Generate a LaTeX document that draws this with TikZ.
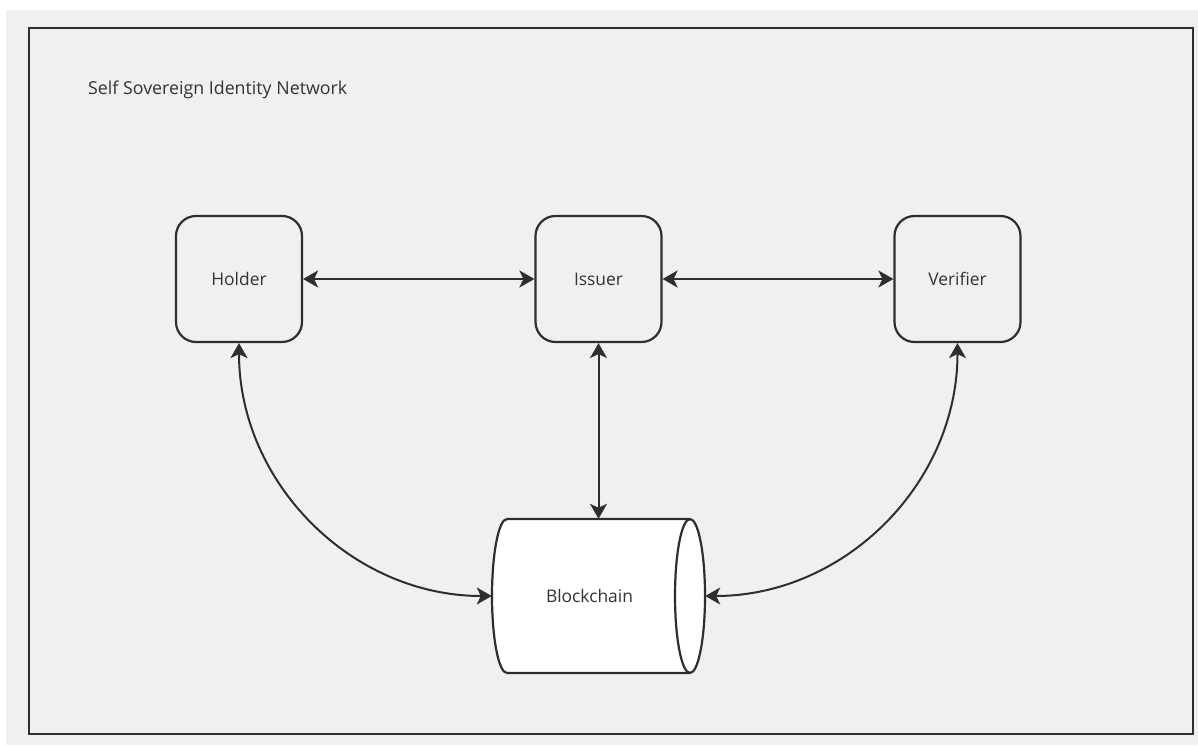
\documentclass[tikz,border=0pt]{standalone}
\usepackage{fontspec}
\setmainfont{Open Sans}
\usetikzlibrary{arrows.meta,calc}
\definecolor{bggray}{HTML}{F0F0F0}
\definecolor{ink}{HTML}{2E2E2E}
\definecolor{txt}{HTML}{333333}
\tikzset{
  party/.style={draw=ink, line width=2.2pt, rounded corners=20pt, minimum width=126pt, minimum height=126pt, inner sep=0pt, text=txt, font=\fontsize{17.4}{20}\selectfont},
  lbl/.style={text=txt, font=\fontsize{17.4}{20}\selectfont, inner sep=0pt},
  cylbox/.style={minimum width=213pt, minimum height=154pt, inner sep=0pt},
  conn/.style={draw=ink, line width=2pt, {Stealth[length=15pt,width=17pt,inset=4pt]}-{Stealth[length=15pt,width=17pt,inset=4pt]}},
}
\begin{document}
\begin{tikzpicture}[x=1pt,y=1pt]
\useasboundingbox (0,0) rectangle (1198,745);
\fill[white] (0,0) rectangle (1198,745);
\fill[bggray] (6,0) rectangle (1198,735);
\draw[ink, line width=2.8pt] (29,11) rectangle (1193,717);
\node[lbl, anchor=base west, font=\fontsize{17.8}{20}\selectfont] (title) at (88,650) {Self Sovereign Identity Network};
\node[party] (holder) at (239,466) {Holder};
\node[party] (issuer) at (598.5,466) {Issuer};
\node[party] (verifier) at (957.5,466) {Verifier};
\node[cylbox] (chain) at (598.5,149) {};
% cylinder drawing
\draw[ink, line width=2.2pt, fill=white] (507,226) -- (690,226)
  arc[start angle=90,end angle=-90,x radius=15,y radius=77] -- (507,72)
  arc[start angle=270,end angle=90,x radius=15,y radius=77] -- cycle;
\draw[ink, line width=2.2pt] (690,226) arc[start angle=90,end angle=270,x radius=15,y radius=77];
\node[lbl] (chainlabel) at ($(chain.center)+(-9,0)$) {Blockchain};
% connectors
\draw[conn] (holder.east) -- (issuer.west);
\draw[conn] (issuer.east) -- (verifier.west);
\draw[conn] (issuer.south) -- (chain.north);
\draw[conn] (holder.south) to[out=-90,in=180] (chain.west);
\draw[conn] (verifier.south) to[out=-90,in=0] (chain.east);
\end{tikzpicture}
\end{document}
